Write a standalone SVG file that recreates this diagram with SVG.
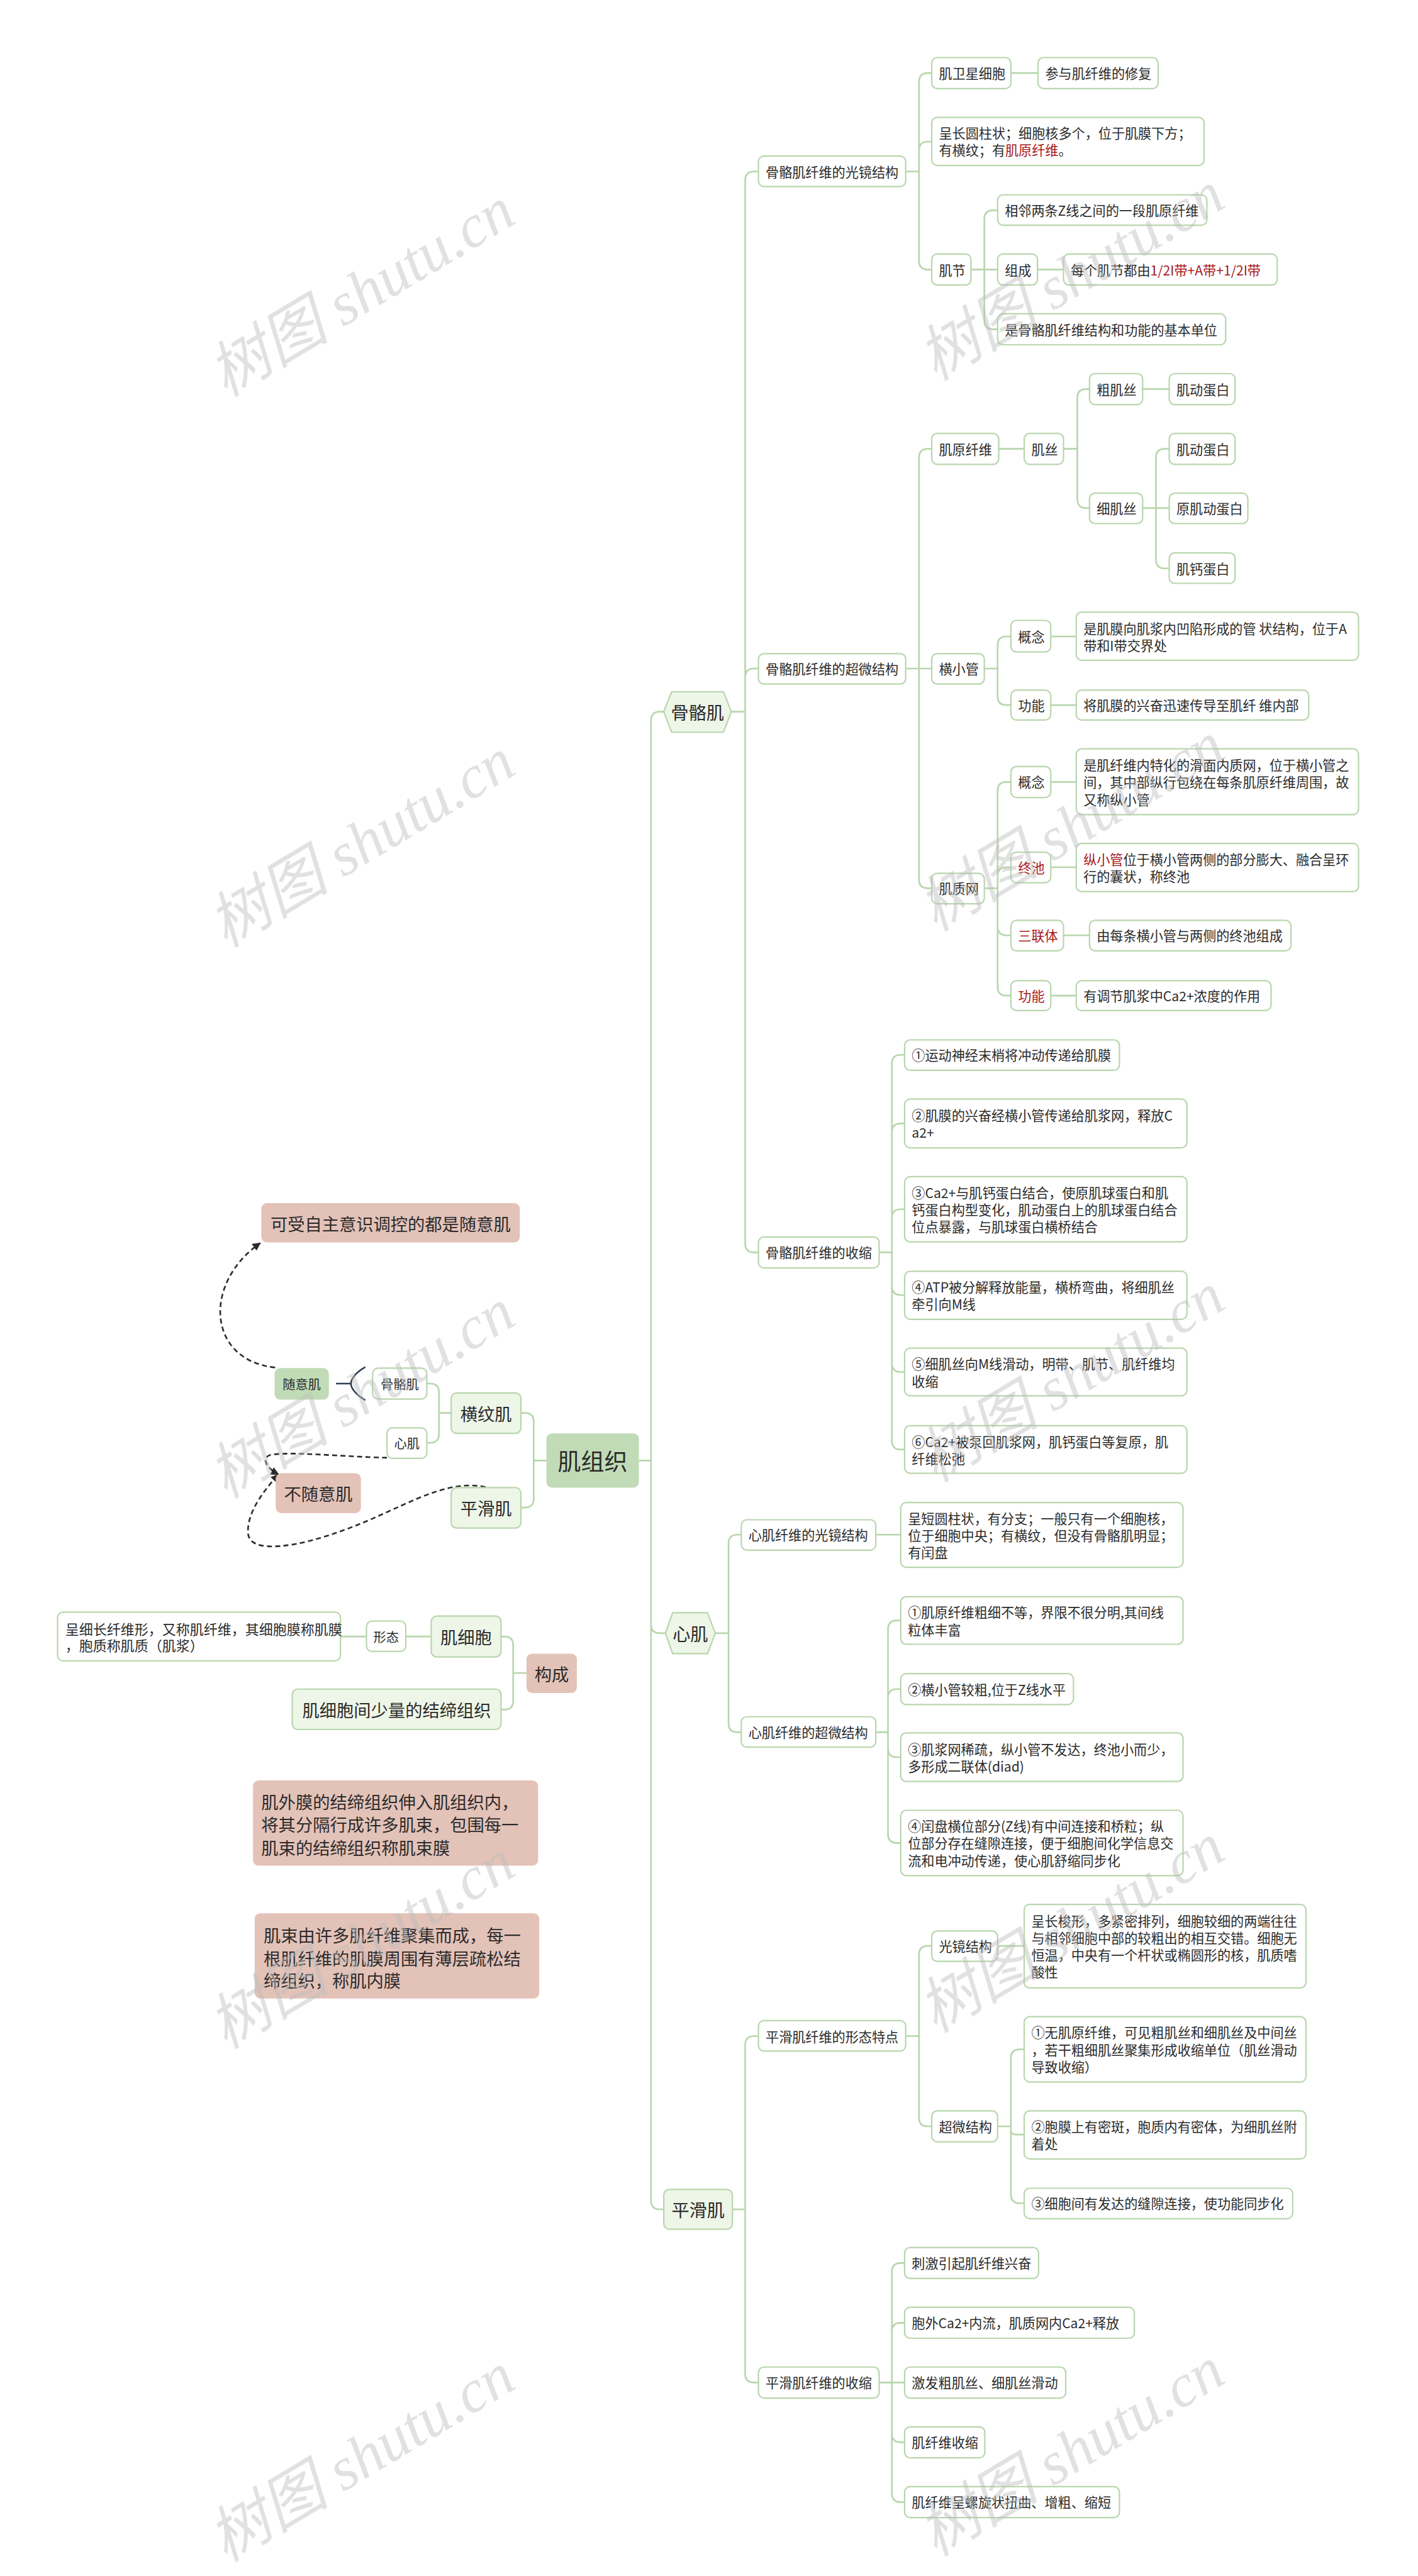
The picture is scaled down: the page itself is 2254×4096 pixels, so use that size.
<svg xmlns="http://www.w3.org/2000/svg" width="2254" height="4096" viewBox="0 0 2254 4096">
<defs>
<style>
text{font-family:"Noto Sans CJK SC","Noto Sans",sans-serif;fill:#2b2b2b;font-size:24px;dominant-baseline:central}
.ln{fill:none;stroke:#b8d6ad;stroke-width:3}
.nb{fill:#fff;stroke:#b8d6ad;stroke-width:2.5}
.l1{fill:#eef6e8;stroke:#b8d6ad;stroke-width:2.5}
.pk{fill:#e3c2b8}
.gr{fill:#c1dbb6}
.red{fill:#a8181c}
.c{text-anchor:middle}
.f23{font-size:23px}
.f25{font-size:25px}
.f31{font-size:31px}
.f32{font-size:32px}
.f42{font-size:42px}
.dash{fill:none;stroke:#2b2b2b;stroke-width:3;stroke-dasharray:9 6}
.wm{font-family:"Liberation Serif","Noto Sans CJK SC",serif;font-style:italic;font-size:110px;fill:#bdbdbd;opacity:0.45;text-anchor:middle}
</style>
<marker id="arr" viewBox="0 0 10 10" refX="9" refY="5" markerWidth="5" markerHeight="5" orient="auto"><path d="M0,0 L10,5 L0,10 z" fill="#2b2b2b"/></marker>
</defs>
<rect width="2254" height="4096" fill="#fff"/>
<g transform="scale(0.88)">
<g id="connectors">
<path class="ln" d="M1154,2639 H1176 M1176,2639 V1302 Q1176,1286 1192,1286 H1199 M1176,2639 V2935 Q1176,2951 1192,2951 H1202 M1176,2639 V3976 Q1176,3992 1192,3992 H1199"/>
<path class="ln" d="M1321,1286 H1346 M1346,1286 V326 Q1346,310 1362,310 H1370 M1346,1286 V1224 Q1346,1208 1362,1208 H1370 M1346,1286 V2247 Q1346,2263 1362,2263 H1370"/>
<path class="ln" d="M1292,2951 H1316 M1316,2951 V2789 Q1316,2773 1332,2773 H1339 M1316,2951 V3114 Q1316,3130 1332,3130 H1339"/>
<path class="ln" d="M1323,3992 H1346 M1346,3992 V3695 Q1346,3679 1362,3679 H1370 M1346,3992 V4289 Q1346,4305 1362,4305 H1370"/>
<path class="ln" d="M1636,310 H1660 M1660,310 V148 Q1660,132 1676,132 H1683 M1660,310 V272 Q1660,256 1676,256 H1683 M1660,310 V471 Q1660,487 1676,487 H1683 M1826,132 H1875"/>
<path class="ln" d="M1754,487 H1778 M1778,487 V396 Q1778,380 1794,380 H1802 M1778,487 H1802 M1778,487 V579 Q1778,595 1794,595 H1802 M1874,487 H1921"/>
<path class="ln" d="M1636,1208 H1660 M1660,1208 V827 Q1660,811 1676,811 H1683 M1660,1208 H1683 M1660,1208 V1589 Q1660,1605 1676,1605 H1683 M1804,811 H1850"/>
<path class="ln" d="M1921,811 H1946 M1946,811 V719 Q1946,703 1962,703 H1968 M1946,811 V902 Q1946,918 1962,918 H1968 M2064,703 H2112"/>
<path class="ln" d="M2064,918 H2088 M2088,918 V827 Q2088,811 2104,811 H2112 M2088,918 H2112 M2088,918 V1011 Q2088,1027 2104,1027 H2112"/>
<path class="ln" d="M1778,1208 H1802 M1802,1208 V1166 Q1802,1150 1818,1150 H1826 M1802,1208 V1258 Q1802,1274 1818,1274 H1826 M1898,1150 H1944 M1898,1274 H1944"/>
<path class="ln" d="M1778,1605 H1802 M1802,1605 V1429 Q1802,1413 1818,1413 H1826 M1802,1605 V1583 Q1802,1567 1818,1567 H1826 M1802,1605 V1674 Q1802,1690 1818,1690 H1826 M1802,1605 V1783 Q1802,1799 1818,1799 H1826 M1898,1413 H1944 M1898,1567 H1944 M1921,1690 H1968 M1898,1799 H1944"/>
<path class="ln" d="M1588,2263 H1611 M1611,2263 V1922 Q1611,1906 1627,1906 H1634 M1611,2263 V2046 Q1611,2030 1627,2030 H1634 M1611,2263 V2201 Q1611,2185 1627,2185 H1634 M1611,2263 V2324 Q1611,2340 1627,2340 H1634 M1611,2263 V2463 Q1611,2479 1627,2479 H1634 M1611,2263 V2603 Q1611,2619 1627,2619 H1634"/>
<path class="ln" d="M1582,2773 H1627 M1582,3130 H1604 M1604,3130 V2944 Q1604,2928 1620,2928 H1627 M1604,3130 V3068 Q1604,3052 1620,3052 H1627 M1604,3130 V3159 Q1604,3175 1620,3175 H1627 M1604,3130 V3314 Q1604,3330 1620,3330 H1627"/>
<path class="ln" d="M1636,3679 H1660 M1660,3679 V3532 Q1660,3516 1676,3516 H1683 M1660,3679 V3826 Q1660,3842 1676,3842 H1683 M1802,3516 H1850"/>
<path class="ln" d="M1802,3842 H1826 M1826,3842 V3719 Q1826,3703 1842,3703 H1850 M1826,3842 V3849 Q1826,3857 1834,3857 H1850 M1826,3842 V3965 Q1826,3981 1842,3981 H1850"/>
<path class="ln" d="M1588,4305 H1611 M1611,4305 V4105 Q1611,4089 1627,4089 H1634 M1611,4305 V4213 Q1611,4197 1627,4197 H1634 M1611,4305 H1634 M1611,4305 V4397 Q1611,4413 1627,4413 H1634 M1611,4305 V4505 Q1611,4521 1627,4521 H1634"/>
<path class="ln" d="M987,2639 H964 M964,2639 V2569 Q964,2553 948,2553 H941 M964,2639 V2708 Q964,2724 948,2724 H941"/>
<path class="ln" d="M815,2553 H793 M793,2553 V2516 Q793,2500 777,2500 H771 M793,2553 V2591 Q793,2607 777,2607 H771"/>
<path class="ln" d="M951,3023 H927 M927,3023 V2973 Q927,2957 911,2957 H905 M927,3023 V3073 Q927,3089 911,3089 H905 M779,2957 H733 M662,2957 H615"/>
<path d="M607,2500 H634 M660,2470 C642,2480 634,2492 634,2500 C634,2508 642,2520 660,2530" fill="none" stroke="#2d3e50" stroke-width="3"/>
<path class="dash" marker-end="url(#arr)" d="M497,2471 C375,2458 365,2320 470,2246"/>
<path class="dash" marker-end="url(#arr)" d="M699,2634 C620,2632 520,2622 488,2629 C472,2634 480,2652 503,2664"/>
<path class="dash" marker-end="url(#arr)" d="M877,2687 C800,2670 720,2730 620,2765 C540,2795 450,2810 448,2770 C446,2730 480,2690 503,2664"/>
</g>

<g id="n-root"><rect x="987" y="2590" width="167" height="98" rx="10" class="gr"/><text x="1070.5" y="2639" class="c f42">肌组织</text></g>

<g id="n-guge"><polygon points="1199,1286 1213,1250 1307,1250 1321,1286 1307,1323 1213,1323" class="l1"/><text x="1260" y="1286" class="c f32">骨骼肌</text></g>
<g id="n-xinji"><polygon points="1202,2951 1215,2914 1278,2914 1292,2951 1278,2988 1215,2988" class="l1"/><text x="1247" y="2951" class="c f32">心肌</text></g>
<g id="n-pinghua"><rect x="1199" y="3956" width="124" height="72" rx="10" class="l1"/><text x="1261" y="3992" class="c f32">平滑肌</text></g>

<g id="n-a1"><rect x="1370" y="282" width="266" height="55" rx="10" class="nb"/><text x="1383" y="310">骨骼肌纤维的光镜结构</text></g>
<g id="n-a2"><rect x="1370" y="1181" width="266" height="55" rx="10" class="nb"/><text x="1383" y="1208">骨骼肌纤维的超微结构</text></g>
<g id="n-a3"><rect x="1370" y="2235" width="218" height="56" rx="10" class="nb"/><text x="1383" y="2263">骨骼肌纤维的收缩</text></g>
<g id="n-b1"><rect x="1339" y="2746" width="243" height="55" rx="10" class="nb"/><text x="1352" y="2773">心肌纤维的光镜结构</text></g>
<g id="n-b2"><rect x="1339" y="3102" width="243" height="55" rx="10" class="nb"/><text x="1352" y="3130">心肌纤维的超微结构</text></g>
<g id="n-c1"><rect x="1370" y="3651" width="266" height="55" rx="10" class="nb"/><text x="1383" y="3679">平滑肌纤维的形态特点</text></g>
<g id="n-c2"><rect x="1370" y="4277" width="218" height="56" rx="10" class="nb"/><text x="1383" y="4305">平滑肌纤维的收缩</text></g>

<g id="n-weixing"><rect x="1683" y="104" width="143" height="56" rx="10" class="nb"/><text x="1696" y="132">肌卫星细胞</text></g>
<g id="n-xiufu"><rect x="1875" y="104" width="217" height="56" rx="10" class="nb"/><text x="1888" y="132">参与肌纤维的修复</text></g>
<g id="n-yuanzhu"><rect x="1683" y="212" width="492" height="87" rx="10" class="nb"/><text x="1696" y="240">呈长圆柱状；细胞核多个，位于肌膜下方；</text><text x="1696" y="271">有横纹；有<tspan class="red">肌原纤维</tspan>。</text></g>
<g id="n-jijie"><rect x="1683" y="459" width="71" height="56" rx="10" class="nb"/><text x="1696" y="487">肌节</text></g>
<g id="n-xianglin"><rect x="1802" y="352" width="378" height="55" rx="10" class="nb"/><text x="1815" y="380">相邻两条Z线之间的一段肌原纤维</text></g>
<g id="n-zucheng"><rect x="1802" y="459" width="72" height="56" rx="10" class="nb"/><text x="1815" y="487">组成</text></g>
<g id="n-meige"><rect x="1921" y="459" width="386" height="56" rx="10" class="nb"/><text x="1934" y="487">每个肌节都由<tspan class="red">1/2I带+A带+1/2I带</tspan></text></g>
<g id="n-jiben"><rect x="1802" y="567" width="412" height="56" rx="10" class="nb"/><text x="1815" y="595">是骨骼肌纤维结构和功能的基本单位</text></g>

<g id="n-jiyuan"><rect x="1683" y="783" width="121" height="56" rx="10" class="nb"/><text x="1696" y="811">肌原纤维</text></g>
<g id="n-jisi"><rect x="1850" y="783" width="71" height="56" rx="10" class="nb"/><text x="1863" y="811">肌丝</text></g>
<g id="n-cu"><rect x="1968" y="675" width="96" height="56" rx="10" class="nb"/><text x="1981" y="703">粗肌丝</text></g>
<g id="n-cu-d"><rect x="2112" y="675" width="119" height="56" rx="10" class="nb"/><text x="2125" y="703">肌动蛋白</text></g>
<g id="n-xi"><rect x="1968" y="891" width="96" height="55" rx="10" class="nb"/><text x="1981" y="918">细肌丝</text></g>
<g id="n-xi-d"><rect x="2112" y="783" width="119" height="56" rx="10" class="nb"/><text x="2125" y="811">肌动蛋白</text></g>
<g id="n-xi-y"><rect x="2112" y="891" width="142" height="55" rx="10" class="nb"/><text x="2125" y="918">原肌动蛋白</text></g>
<g id="n-xi-g"><rect x="2112" y="999" width="119" height="55" rx="10" class="nb"/><text x="2125" y="1027">肌钙蛋白</text></g>

<g id="n-hengxg"><rect x="1683" y="1181" width="95" height="55" rx="10" class="nb"/><text x="1696" y="1208">横小管</text></g>
<g id="n-hx-gn"><rect x="1826" y="1121" width="72" height="57" rx="10" class="nb"/><text x="1839" y="1150">概念</text></g>
<g id="n-hx-gn-t"><rect x="1944" y="1106" width="510" height="87" rx="10" class="nb"/><text x="1957" y="1135">是肌膜向肌浆内凹陷形成的管 状结构，位于A</text><text x="1957" y="1166">带和I带交界处</text></g>
<g id="n-hx-fn"><rect x="1826" y="1247" width="72" height="54" rx="10" class="nb"/><text x="1839" y="1274">功能</text></g>
<g id="n-hx-fn-t"><rect x="1944" y="1247" width="420" height="54" rx="10" class="nb"/><text x="1957" y="1274">将肌膜的兴奋迅速传导至肌纤 维内部</text></g>

<g id="n-jizhi"><rect x="1683" y="1578" width="95" height="55" rx="10" class="nb"/><text x="1696" y="1605">肌质网</text></g>
<g id="n-jz-gn"><rect x="1826" y="1385" width="72" height="56" rx="10" class="nb"/><text x="1839" y="1413">概念</text></g>
<g id="n-jz-gn-t"><rect x="1944" y="1353" width="510" height="119" rx="10" class="nb"/><text x="1957" y="1382">是肌纤维内特化的滑面内质网，位于横小管之</text><text x="1957" y="1413">间，其中部纵行包绕在每条肌原纤维周围，故</text><text x="1957" y="1444">又称纵小管</text></g>
<g id="n-zhongchi"><rect x="1826" y="1540" width="72" height="55" rx="10" class="nb"/><text x="1839" y="1567" class="red">终池</text></g>
<g id="n-zhongchi-t"><rect x="1944" y="1524" width="510" height="87" rx="10" class="nb"/><text x="1957" y="1552"><tspan class="red">纵小管</tspan>位于横小管两侧的部分膨大、融合呈环</text><text x="1957" y="1583">行的囊状，称终池</text></g>
<g id="n-sanlian"><rect x="1826" y="1663" width="95" height="55" rx="10" class="nb"/><text x="1839" y="1690" class="red">三联体</text></g>
<g id="n-sanlian-t"><rect x="1968" y="1663" width="364" height="55" rx="10" class="nb"/><text x="1981" y="1690">由每条横小管与两侧的终池组成</text></g>
<g id="n-jz-fn"><rect x="1826" y="1772" width="72" height="54" rx="10" class="nb"/><text x="1839" y="1799" class="red">功能</text></g>
<g id="n-jz-fn-t"><rect x="1944" y="1772" width="352" height="54" rx="10" class="nb"/><text x="1957" y="1799">有调节肌浆中Ca2+浓度的作用</text></g>

<g id="n-s1"><rect x="1634" y="1879" width="388" height="55" rx="10" class="nb"/><text x="1647" y="1906">①运动神经末梢将冲动传递给肌膜</text></g>
<g id="n-s2"><rect x="1634" y="1986" width="510" height="88" rx="10" class="nb"/><text x="1647" y="2015">②肌膜的兴奋经横小管传递给肌浆网，释放C</text><text x="1647" y="2046">a2+</text></g>
<g id="n-s3"><rect x="1634" y="2126" width="510" height="118" rx="10" class="nb"/><text x="1647" y="2154">③Ca2+与肌钙蛋白结合，使原肌球蛋白和肌</text><text x="1647" y="2185">钙蛋白构型变化，肌动蛋白上的肌球蛋白结合</text><text x="1647" y="2216">位点暴露，与肌球蛋白横桥结合</text></g>
<g id="n-s4"><rect x="1634" y="2297" width="510" height="87" rx="10" class="nb"/><text x="1647" y="2325">④ATP被分解释放能量，横桥弯曲，将细肌丝</text><text x="1647" y="2356">牵引向M线</text></g>
<g id="n-s5"><rect x="1634" y="2436" width="510" height="86" rx="10" class="nb"/><text x="1647" y="2464">⑤细肌丝向M线滑动，明带、肌节、肌纤维均</text><text x="1647" y="2495">收缩</text></g>
<g id="n-s6"><rect x="1634" y="2576" width="510" height="86" rx="10" class="nb"/><text x="1647" y="2604">⑥Ca2+被泵回肌浆网，肌钙蛋白等复原，肌</text><text x="1647" y="2635">纤维松弛</text></g>

<g id="n-b1-t"><rect x="1627" y="2715" width="510" height="117" rx="10" class="nb"/><text x="1640" y="2743">呈短圆柱状，有分支；一般只有一个细胞核，</text><text x="1640" y="2774">位于细胞中央；有横纹，但没有骨骼肌明显；</text><text x="1640" y="2805">有闰盘</text></g>
<g id="n-b2-1"><rect x="1627" y="2885" width="510" height="86" rx="10" class="nb"/><text x="1640" y="2913">①肌原纤维粗细不等，界限不很分明,其间线</text><text x="1640" y="2944">粒体丰富</text></g>
<g id="n-b2-2"><rect x="1627" y="3024" width="312" height="56" rx="10" class="nb"/><text x="1640" y="3052">②横小管较粗,位于Z线水平</text></g>
<g id="n-b2-3"><rect x="1627" y="3131" width="510" height="88" rx="10" class="nb"/><text x="1640" y="3160">③肌浆网稀疏，纵小管不发达，终池小而少，</text><text x="1640" y="3191">多形成二联体(diad)</text></g>
<g id="n-b2-4"><rect x="1627" y="3271" width="510" height="118" rx="10" class="nb"/><text x="1640" y="3299">④闰盘横位部分(Z线)有中间连接和桥粒；纵</text><text x="1640" y="3330">位部分存在缝隙连接，便于细胞间化学信息交</text><text x="1640" y="3361">流和电冲动传递，使心肌舒缩同步化</text></g>

<g id="n-c1-gj"><rect x="1683" y="3489" width="119" height="55" rx="10" class="nb"/><text x="1696" y="3516">光镜结构</text></g>
<g id="n-c1-gj-t"><rect x="1850" y="3441" width="509" height="151" rx="10" class="nb"/><text x="1863" y="3470">呈长梭形，多紧密排列，细胞较细的两端往往</text><text x="1863" y="3501">与相邻细胞中部的较粗出的相互交错。细胞无</text><text x="1863" y="3532">恒温，中央有一个杆状或椭圆形的核，肌质嗜</text><text x="1863" y="3563">酸性</text></g>
<g id="n-c1-cw"><rect x="1683" y="3814" width="119" height="56" rx="10" class="nb"/><text x="1696" y="3842">超微结构</text></g>
<g id="n-c1-cw-1"><rect x="1850" y="3644" width="509" height="118" rx="10" class="nb"/><text x="1863" y="3672">①无肌原纤维，可见粗肌丝和细肌丝及中间丝</text><text x="1863" y="3703">，若干粗细肌丝聚集形成收缩单位（肌丝滑动</text><text x="1863" y="3734">导致收缩）</text></g>
<g id="n-c1-cw-2"><rect x="1850" y="3814" width="509" height="87" rx="10" class="nb"/><text x="1863" y="3842">②胞膜上有密斑，胞质内有密体，为细肌丝附</text><text x="1863" y="3873">着处</text></g>
<g id="n-c1-cw-3"><rect x="1850" y="3954" width="485" height="55" rx="10" class="nb"/><text x="1863" y="3981">③细胞间有发达的缝隙连接，使功能同步化</text></g>

<g id="n-c2-1"><rect x="1634" y="4061" width="242" height="56" rx="10" class="nb"/><text x="1647" y="4089">刺激引起肌纤维兴奋</text></g>
<g id="n-c2-2"><rect x="1634" y="4169" width="415" height="56" rx="10" class="nb"/><text x="1647" y="4197">胞外Ca2+内流，肌质网内Ca2+释放</text></g>
<g id="n-c2-3"><rect x="1634" y="4277" width="291" height="56" rx="10" class="nb"/><text x="1647" y="4305">激发粗肌丝、细肌丝滑动</text></g>
<g id="n-c2-4"><rect x="1634" y="4385" width="145" height="56" rx="10" class="nb"/><text x="1647" y="4413">肌纤维收缩</text></g>
<g id="n-c2-5"><rect x="1634" y="4493" width="388" height="56" rx="10" class="nb"/><text x="1647" y="4521">肌纤维呈螺旋状扭曲、增粗、缩短</text></g>

<g id="n-kesh"><rect x="472" y="2174" width="467" height="71" rx="10" class="pk"/><text x="705.5" y="2210" class="c f31">可受自主意识调控的都是随意肌</text></g>
<g id="n-suiyi"><rect x="496" y="2472" width="98" height="57" rx="10" class="gr"/><text x="545" y="2500" class="c f23">随意肌</text></g>
<g id="n-l-guge"><rect x="673" y="2472" width="98" height="56" rx="10" class="nb"/><text x="722" y="2500" class="c f23">骨骼肌</text></g>
<g id="n-l-xin"><rect x="699" y="2580" width="72" height="55" rx="10" class="nb"/><text x="735" y="2607" class="c f23">心肌</text></g>
<g id="n-hengwen"><rect x="815" y="2517" width="126" height="73" rx="10" class="l1"/><text x="878" y="2553" class="c f31">横纹肌</text></g>
<g id="n-l-pinghua"><rect x="815" y="2688" width="126" height="73" rx="10" class="l1"/><text x="878" y="2724" class="c f31">平滑肌</text></g>
<g id="n-busuiyi"><rect x="498" y="2662" width="154" height="72" rx="10" class="pk"/><text x="575" y="2698" class="c f31">不随意肌</text></g>

<g id="n-jixibao"><rect x="779" y="2920" width="126" height="74" rx="10" class="l1"/><text x="842" y="2957" class="c f31">肌细胞</text></g>
<g id="n-xingtai"><rect x="662" y="2929" width="71" height="55" rx="10" class="nb"/><text x="697.5" y="2957" class="c f23">形态</text></g>
<g id="n-xichang"><rect x="104" y="2913" width="511" height="88" rx="10" class="nb"/><text x="118" y="2942" class="f25">呈细长纤维形，又称肌纤维，其细胞膜称肌膜</text><text x="118" y="2972" class="f25">，胞质称肌质（肌浆）</text></g>
<g id="n-goucheng"><rect x="951" y="2988" width="91" height="71" rx="10" class="pk"/><text x="996.5" y="3024" class="c f31">构成</text></g>
<g id="n-jiejian"><rect x="528" y="3052" width="377" height="73" rx="10" class="l1"/><text x="716.5" y="3089" class="c f31">肌细胞间少量的结缔组织</text></g>
<g id="n-jiwaimo"><rect x="457" y="3217" width="515" height="154" rx="10" class="pk"/><text x="472" y="3254" class="f31">肌外膜的结缔组织伸入肌组织内，</text><text x="472" y="3296" class="f31">将其分隔行成许多肌束，包围每一</text><text x="472" y="3337" class="f31">肌束的结缔组织称肌束膜</text></g>
<g id="n-jishu"><rect x="460" y="3457" width="514" height="154" rx="10" class="pk"/><text x="476" y="3495" class="f31">肌束由许多肌纤维聚集而成，每一</text><text x="476" y="3537" class="f31">根肌纤维的肌膜周围有薄层疏松结</text><text x="476" y="3577" class="f31">缔组织，称肌内膜</text></g>

<g id="watermarks">
<text class="wm" transform="translate(653,528) rotate(-31)">树图 shutu.cn</text>
<text class="wm" transform="translate(653,1523) rotate(-31)">树图 shutu.cn</text>
<text class="wm" transform="translate(653,2518) rotate(-31)">树图 shutu.cn</text>
<text class="wm" transform="translate(653,3513) rotate(-31)">树图 shutu.cn</text>
<text class="wm" transform="translate(653,4440) rotate(-31)">树图 shutu.cn</text>
<text class="wm" transform="translate(1935,499) rotate(-31)">树图 shutu.cn</text>
<text class="wm" transform="translate(1935,1494) rotate(-31)">树图 shutu.cn</text>
<text class="wm" transform="translate(1935,2489) rotate(-31)">树图 shutu.cn</text>
<text class="wm" transform="translate(1935,3484) rotate(-31)">树图 shutu.cn</text>
<text class="wm" transform="translate(1935,4430) rotate(-31)">树图 shutu.cn</text>
</g>
</g>
</svg>
